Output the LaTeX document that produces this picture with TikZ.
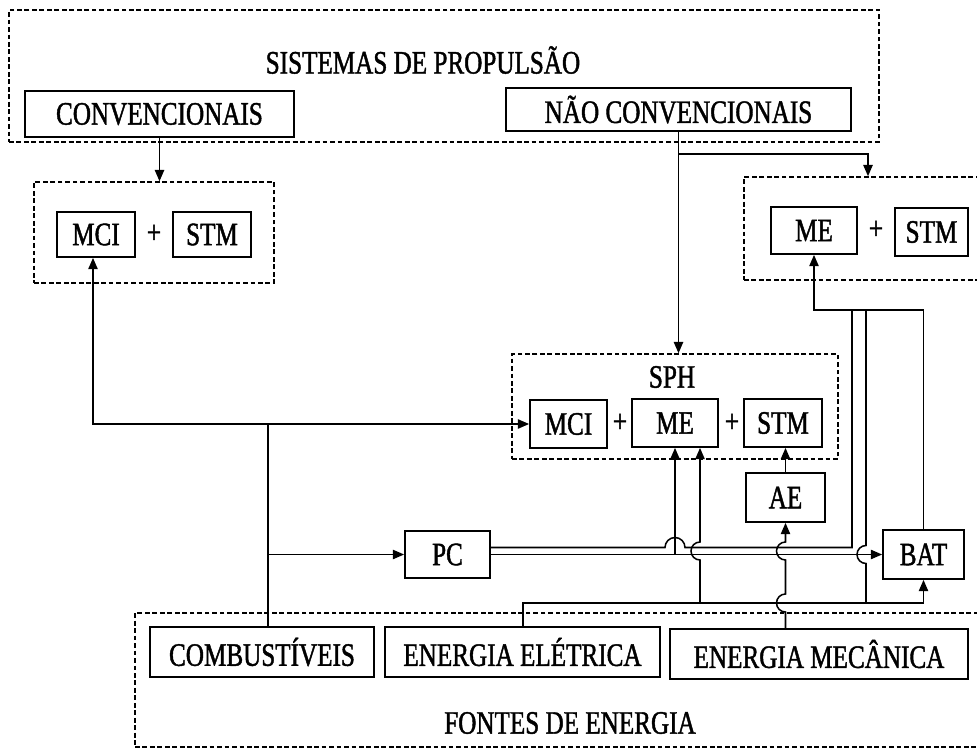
\documentclass[tikz,border=0pt]{standalone}
\usepackage{fontspec}
\setmainfont{Liberation Serif}[FakeStretch=0.77,FakeBold=1.3]
\usetikzlibrary{arrows.meta}
\begin{document}
\begin{tikzpicture}[x=0.75pt,y=0.75pt,
  txt/.style={font=\fontsize{24.5}{27}\selectfont},
  box/.style={draw, line width=1.3pt, inner sep=0pt, txt},
  grp/.style={draw, line width=1.1pt, dash pattern=on 3.6pt off 2pt, inner sep=0pt},
  wh/.style 2 args={minimum width=#1*0.75pt, minimum height=#2*0.75pt},
  lbl/.style={inner sep=0pt, txt},
  wire/.style={line width=1.15pt},
  arr/.style={wire, -{Triangle[length=8.5pt,width=7pt]}}]
\useasboundingbox (0,0) rectangle (977,-749);

% dashed groups
\node[grp, wh={870}{132}] (prop) at (444,-76) {};
\node[grp, wh={240}{101}] (lgrp) at (154,-232.5) {};
\node[grp, wh={246}{103}] (rgrp) at (867,-228.5) {};
\node[grp, wh={326}{105}] (sph) at (675,-406.5) {};
\node[grp, wh={855}{134}] (src) at (562.5,-680) {};

% group titles
\node[lbl] (propT) at (423,-60) {SISTEMAS DE PROPULSÃO};
\node[lbl] (sphT) at (672,-377) {SPH};
\node[lbl] (srcT) at (570,-723) {FONTES DE ENERGIA};

% propulsion classes
\node[box, wh={269}{46}] (conv) at (159.5,-114) {CONVENCIONAIS};
\node[box, wh={345}{43}] (nao) at (678.5,-109.5) {NÃO CONVENCIONAIS};

% conventional system
\node[box, wh={78}{45}] (mciL) at (96,-234.5) {MCI};
\node[lbl] (plusL) at (154,-234) {+};
\node[box, wh={78}{45}] (stmL) at (212,-234.5) {STM};

% electric system
\node[box, wh={86}{47}] (meR) at (814,-230.5) {ME};
\node[lbl] (plusR) at (876,-230) {+};
\node[box, wh={73}{48}] (stmR) at (931.5,-232) {STM};

% hybrid system
\node[box, wh={77}{48}] (mciS) at (568.5,-424) {MCI};
\node[lbl] (plusS1) at (620,-423) {+};
\node[box, wh={86}{48}] (meS) at (675,-423) {ME};
\node[lbl] (plusS2) at (732,-423) {+};
\node[box, wh={78}{48}] (stmS) at (783,-423) {STM};

% converters and storage
\node[box, wh={79}{49}] (ae) at (785.5,-497.5) {AE};
\node[box, wh={85}{47}] (pc) at (447.5,-554.5) {PC};
\node[box, wh={81}{49}] (bat) at (923.5,-554.5) {BAT};

% energy sources
\node[box, wh={224}{50}] (comb) at (262,-652) {COMBUSTÍVEIS};
\node[box, wh={275}{50}] (ele) at (522.5,-652) {ENERGIA ELÉTRICA};
\node[box, wh={298}{50}] (mec) at (819,-654) {ENERGIA MECÂNICA};

% junction points
\coordinate (nb) at (868,-154);
\coordinate (cj) at (268,-424);
\coordinate (cl) at (93,-424);
\coordinate (cp) at (268,-554.5);
\coordinate (hub) at (814,-310);
\coordinate (u1) at (852,-310);
\coordinate (h1) at (665,-547.5);
\coordinate (e1) at (523,-603);
\coordinate (e2) at (700,-603);
\coordinate (e2h) at (700,-560);
\coordinate (e3) at (866,-603);
\coordinate (e3h) at (866,-563.5);
\coordinate (mh1) at (785.5,-612);
\coordinate (mh2) at (785.5,-560);

% classes to systems
\draw[arr] (conv.south) -- (conv.south |- lgrp.north);
\draw[arr] (nao.south) -- (nao.south |- sph.north);
\draw[arr] (nao.south |- nb) -- (nb) -- (nb |- rgrp.north);

% fuel
\draw[wire] (comb.north -| cj) -- (cj);
\draw[arr] (cj) -- (mciS.west);
\draw[arr] (cj) -- (cl) -- (cl |- mciL.south);
\draw[arr] (cp) -- (pc.west);

% power converter outputs
\draw[arr] ([yshift=5.25pt]pc.east) coordinate (pu) -- (h1)
  arc[start angle=180, end angle=0, radius=7.5pt] -- (u1 |- pu) -- (u1) -- (hub) -- (meR.south);
\draw[arr] (pc.east) -- (bat.west);
\draw[arr] (pc.east -| meS.south) -- (meS.south);

% electric energy
\draw[arr] (ele.north -| e1) -- (e1) -| (bat.south);
\draw[arr] (e2) -- (e2h) arc[start angle=-90, end angle=-270, radius=6.75pt] -- (e2 |- meS.south);
\draw[wire] (e3) -- (e3h) arc[start angle=-90, end angle=-270, radius=6.75pt] -- (e3 |- hub);
\draw[wire] (bat.north) -- (bat.north |- hub) -- (u1);

% mechanical energy
\draw[arr] (mec.north -| mh1) -- (mh1) arc[start angle=-90, end angle=-270, radius=6.75pt]
  -- (mh2) arc[start angle=-90, end angle=-270, radius=6.75pt] -- (ae.south);
\draw[arr] (ae.north) -- (ae.north |- stmS.south);
\end{tikzpicture}
\end{document}
